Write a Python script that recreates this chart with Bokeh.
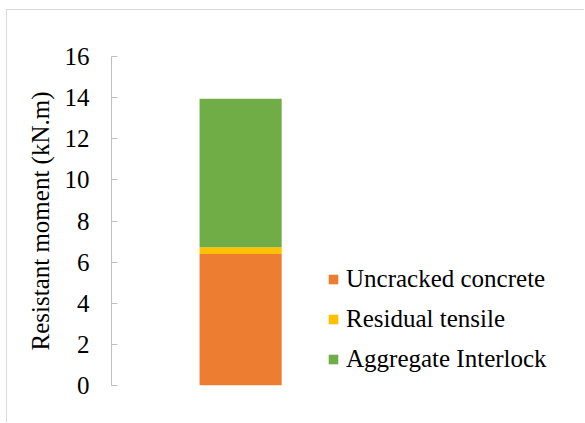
from bokeh.plotting import figure
from bokeh.models import Range1d, Legend, LegendItem, FixedTicker
from bokeh.embed import file_html
from bokeh.resources import INLINE

# Resistant moment contributions for the single section (kN.m)
categories = ["Section"]
uncracked_concrete = [6.4]
residual_tensile = [0.32]
aggregate_interlock = [7.23]
series_names = ["Uncracked concrete", "Residual tensile", "Aggregate Interlock"]
series_colors = ["#ED7D31", "#FFC000", "#70AD47"]
y_ticks = [0, 2, 4, 6, 8, 10, 12, 14, 16]

FONT = "Liberation Serif"

p = figure(
    width=578, height=413,
    x_range=Range1d(0, 3.64), y_range=Range1d(0, 16),
    output_backend="svg", toolbar_location=None,
    min_border_left=104, min_border_right=4,
    min_border_top=46, min_border_bottom=38,
)
p.styles = {
    "border-top": "1px solid #d9d9d9",
    "border-left": "1px solid #d9d9d9",
    "margin-left": "6px",
    "margin-top": "9px",
}

data = {
    "x": [1],
    "uncracked": uncracked_concrete,
    "residual": residual_tensile,
    "aggregate": aggregate_interlock,
}
renderers = p.vbar_stack(
    ["uncracked", "residual", "aggregate"], x="x", width=0.636,
    source=data, color=series_colors, line_color=None,
)

legend = Legend(
    items=[LegendItem(label=n, renderers=[r]) for n, r in zip(series_names, renderers)],
    location=(216, 12),
    glyph_width=12, glyph_height=12, label_standoff=7,
    spacing=12, padding=0, margin=0,
    border_line_color=None, background_fill_alpha=0,
    label_text_font=FONT, label_text_font_size="25px", label_text_color="#000000",
)
p.add_layout(legend)

p.xaxis.visible = False
p.xgrid.visible = False
p.ygrid.visible = False
p.outline_line_color = None

ax = p.yaxis[0]
ax.ticker = FixedTicker(ticks=y_ticks)
ax.axis_line_color = "#bfbfbf"
ax.major_tick_line_color = "#bfbfbf"
ax.major_tick_in = 6
ax.major_tick_out = 0
ax.minor_tick_line_color = None
ax.major_label_standoff = 22
ax.major_label_text_font = FONT
ax.major_label_text_font_size = "25px"
ax.major_label_text_color = "#000000"
ax.axis_label = "Resistant moment (kN.m)"
ax.axis_label_text_font = FONT
ax.axis_label_text_font_size = "25px"
ax.axis_label_text_font_style = "normal"
ax.axis_label_text_color = "#000000"
ax.axis_label_standoff = 8

open("out.html", "w").write(file_html(p, INLINE))
